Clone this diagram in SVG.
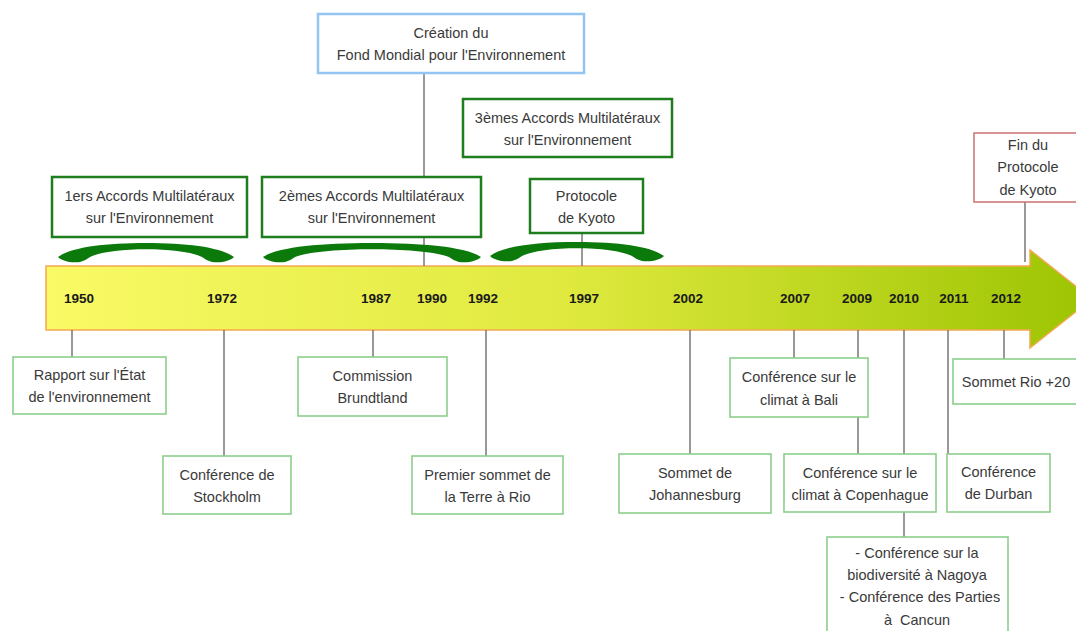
<svg xmlns="http://www.w3.org/2000/svg" width="1076" height="631" viewBox="0 0 1076 631">
<defs>
<linearGradient id="grad" x1="0" y1="0" x2="1" y2="0">
<stop offset="0" stop-color="#fafa66"/>
<stop offset="0.5" stop-color="#dfe93e"/>
<stop offset="1" stop-color="#9cc402"/>
</linearGradient>
<style>
.t{font-family:"Liberation Sans",Arial,sans-serif;font-size:14.5px;fill:#3a3a3a;text-anchor:middle}
.y{font-family:"Liberation Sans",Arial,sans-serif;font-size:13.5px;font-weight:bold;fill:#1a1a1a;text-anchor:middle}
.dg{fill:#fff;stroke:#1e7e1e;stroke-width:2.5}
.lg{fill:#fff;stroke:#8ccf8c;stroke-width:1.6}
.bl{fill:#fff;stroke:#94c4f2;stroke-width:2.5}
.rd{fill:#fff;stroke:#cc7272;stroke-width:1.5}
.c{stroke:#6e6e6e;stroke-width:1.4;fill:none}
.ca{fill:#0b7a0b}
</style>
</defs>
<rect width="1076" height="631" fill="#fff"/>

<g id="timeline">
<polygon points="46,266 1030,266 1030,250 1092,299 1030,348 1030,330 46,330" fill="url(#grad)" stroke="#f4a850" stroke-width="1.5"/>
<text class="y" x="79" y="303">1950</text>
<text class="y" x="222" y="303">1972</text>
<text class="y" x="376" y="303">1987</text>
<text class="y" x="432" y="303">1990</text>
<text class="y" x="483" y="303">1992</text>
<text class="y" x="584" y="303">1997</text>
<text class="y" x="688" y="303">2002</text>
<text class="y" x="795" y="303">2007</text>
<text class="y" x="857" y="303">2009</text>
<text class="y" x="904" y="303">2010</text>
<text class="y" x="954" y="303">2011</text>
<text class="y" x="1006" y="303">2012</text>
</g>

<g id="connectors">
<line class="c" x1="424" y1="73" x2="424" y2="266"/>
<line class="c" x1="582" y1="233" x2="582" y2="266"/>
<line class="c" x1="1025" y1="202" x2="1025" y2="262"/>
<line class="c" x1="72" y1="330" x2="72" y2="357"/>
<line class="c" x1="224" y1="330" x2="224" y2="456"/>
<line class="c" x1="373" y1="330" x2="373" y2="357"/>
<line class="c" x1="486" y1="330" x2="486" y2="456"/>
<line class="c" x1="690" y1="330" x2="690" y2="454"/>
<line class="c" x1="794" y1="330" x2="794" y2="358"/>
<line class="c" x1="858" y1="330" x2="858" y2="454"/>
<line class="c" x1="904" y1="330" x2="904" y2="537"/>
<line class="c" x1="948" y1="330" x2="948" y2="454"/>
<line class="c" x1="1004" y1="330" x2="1004" y2="359"/>
<path class="ca" d="M 58 257 C 72 247, 105 243, 146 243 C 187 243, 220 247, 234 257 C 230 261, 222 263, 212 262 C 208 261, 205 259, 202 257 C 182 246.5, 110 246.5, 90 257 C 87 259, 84 261, 80 262 C 70 263, 62 261, 58 257 Z"/>
<path class="ca" d="M 263 257 C 278 247, 320 243, 372 243 C 424 243, 466 247, 481 257 C 477 261, 469 263, 459 262 C 455 261, 452 259, 449 257 C 424 246.5, 320 246.5, 295 257 C 292 259, 289 261, 285 262 C 275 263, 267 261, 263 257 Z"/>
<path class="ca" d="M 490 256 C 504 246, 536 242, 577 242 C 618 242, 650 246, 664 256 C 660 260, 652 262, 642 261 C 638 260, 635 258, 632 256 C 612 245.5, 542 245.5, 522 256 C 519 258, 516 260, 512 261 C 502 262, 494 260, 490 256 Z"/>
</g>

<g id="n-creation">
<rect class="bl" x="318" y="14" width="266" height="59"/>
<text class="t" x="451" y="38">Création du</text>
<text class="t" x="451" y="60">Fond Mondial pour l'Environnement</text>
</g>
<g id="n-3emes">
<rect class="dg" x="463" y="99" width="209" height="58"/>
<text class="t" x="567.5" y="123">3èmes Accords Multilatéraux</text>
<text class="t" x="567.5" y="145">sur l'Environnement</text>
</g>
<g id="n-1ers">
<rect class="dg" x="52" y="177" width="195" height="60"/>
<text class="t" x="149.5" y="201">1ers Accords Multilatéraux</text>
<text class="t" x="149.5" y="223">sur l'Environnement</text>
</g>
<g id="n-2emes">
<rect class="dg" x="262" y="177" width="219" height="60"/>
<text class="t" x="371.5" y="201">2èmes Accords Multilatéraux</text>
<text class="t" x="371.5" y="223">sur l'Environnement</text>
</g>
<g id="n-kyoto">
<rect class="dg" x="530" y="179" width="113" height="54"/>
<text class="t" x="586.5" y="201">Protocole</text>
<text class="t" x="586.5" y="223">de Kyoto</text>
</g>
<g id="n-finkyoto">
<rect class="rd" x="974" y="133" width="110" height="69"/>
<text class="t" x="1028" y="150">Fin du</text>
<text class="t" x="1028" y="172">Protocole</text>
<text class="t" x="1028" y="195">de Kyoto</text>
</g>

<g id="n-rapport">
<rect class="lg" x="13" y="357" width="153" height="57"/>
<text class="t" x="89.5" y="380">Rapport sur l'État</text>
<text class="t" x="89.5" y="402">de l'environnement</text>
</g>
<g id="n-stockholm">
<rect class="lg" x="163" y="456" width="128" height="58"/>
<text class="t" x="227" y="480">Conférence de</text>
<text class="t" x="227" y="502">Stockholm</text>
</g>
<g id="n-brundtland">
<rect class="lg" x="298" y="357" width="149" height="59"/>
<text class="t" x="372.5" y="381">Commission</text>
<text class="t" x="372.5" y="403">Brundtland</text>
</g>
<g id="n-rio">
<rect class="lg" x="412" y="456" width="151" height="58"/>
<text class="t" x="487.5" y="480">Premier sommet de</text>
<text class="t" x="487.5" y="502">la Terre à Rio</text>
</g>
<g id="n-johannesburg">
<rect class="lg" x="619" y="454" width="152" height="59"/>
<text class="t" x="695" y="478">Sommet de</text>
<text class="t" x="695" y="500">Johannesburg</text>
</g>
<g id="n-bali">
<rect class="lg" x="730" y="358" width="138" height="59"/>
<text class="t" x="799" y="382">Conférence sur le</text>
<text class="t" x="799" y="405">climat à Bali</text>
</g>
<g id="n-copenhague">
<rect class="lg" x="784" y="454" width="152" height="58"/>
<text class="t" x="860" y="478">Conférence sur le</text>
<text class="t" x="860" y="500">climat à Copenhague</text>
</g>
<g id="n-durban">
<rect class="lg" x="947" y="454" width="103" height="58"/>
<text class="t" x="998.5" y="477">Conférence</text>
<text class="t" x="998.5" y="499">de Durban</text>
</g>
<g id="n-rio20">
<rect class="lg" x="953" y="359" width="130" height="45"/>
<text class="t" x="1016" y="387">Sommet Rio +20</text>
</g>
<g id="n-nagoya">
<rect class="lg" x="827" y="537" width="181" height="100"/>
<text class="t" x="917" y="558">- Conférence sur la</text>
<text class="t" x="917" y="580">biodiversité à Nagoya</text>
<text class="t" x="920" y="602">- Conférence des Parties</text>
<text class="t" x="917" y="625" xml:space="preserve">à  Cancun</text>
</g>
</svg>
